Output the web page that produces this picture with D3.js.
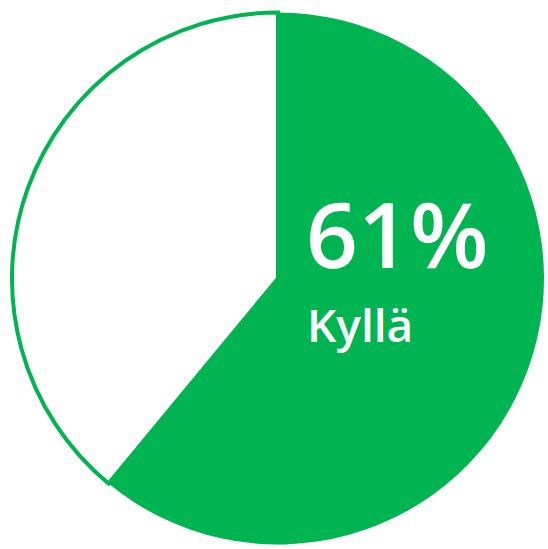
<script src="https://cdn.jsdelivr.net/npm/d3@7"></script>
<body style="margin:0">
<script>
    // Data
    var categories = ["Kyllä", "Ei"];
    var values = [61, 39];
    var colors = ["#00b451", "#ffffff"];

    var SVGWidth = 548, SVGHeight = 549;
    var cx = 278, cy = 278.5, radius = 266;

    var svg = d3.select("body")
        .append("svg")
        .attr("width", SVGWidth)
        .attr("height", SVGHeight)
        .append("g")
        .attr("transform", "translate(" + cx + "," + cy + ")");

    var data = categories.map(function(c, i) { return {label: c, value: values[i], color: colors[i]}; });

    var pie = d3.pie().sort(null).value(function(d) { return d.value; });
    var arc = d3.arc().innerRadius(0).outerRadius(radius);

    svg.selectAll("path.slice")
        .data(pie(data))
        .enter()
        .append("path")
        .attr("class", "slice")
        .attr("d", arc)
        .attr("fill", function(d) { return d.data.color; })
        .attr("stroke", "#00b451")
        .attr("stroke-width", function(d, i) { return i == 0 ? 0 : 4; })
        .attr("stroke-linejoin", "miter");

    // Label for the big slice
    svg.append("text")
        .attr("x", 28)
        .attr("y", -11)
        .attr("fill", "#fff")
        .style("font", "600 91px 'Open Sans', 'Liberation Sans', sans-serif")
        .text(values[0] + "%");

    svg.append("text")
        .attr("x", 29)
        .attr("y", 63)
        .attr("fill", "#fff")
        .style("font", "600 46px 'Open Sans', 'Liberation Sans', sans-serif")
        .text(categories[0]);
</script>
</body>
